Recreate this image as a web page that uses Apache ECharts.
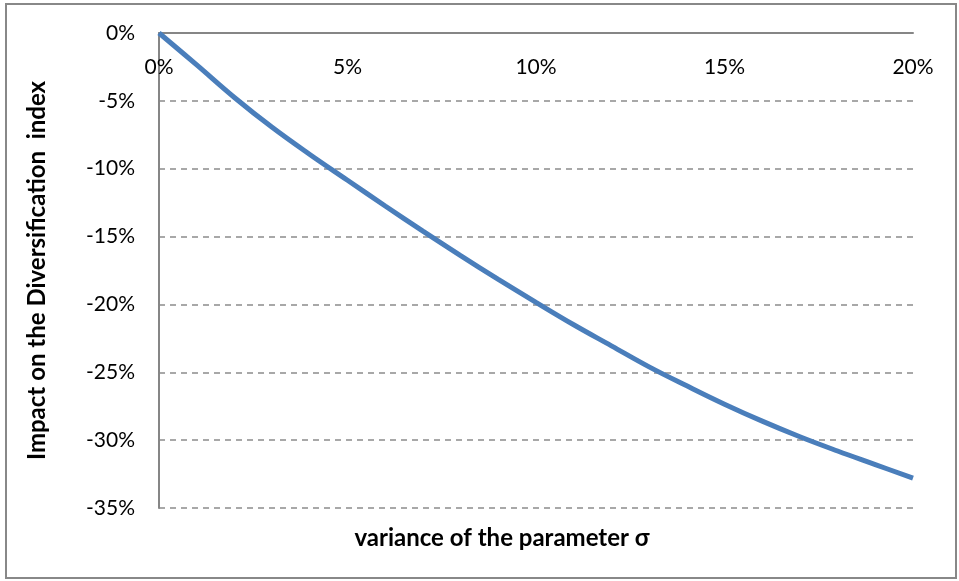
<!DOCTYPE html>
<html>
<head>
<meta charset="utf-8">
<script src="https://cdn.jsdelivr.net/npm/echarts@6/dist/echarts.min.js"></script>
<style>
html,body{margin:0;padding:0;background:#fff;}
#chart{width:959px;height:581px;}
</style>
</head>
<body>
<div id="chart"></div>
<script>
const sigmaValues = [0,1,2,3,4,5,6,7,8,9,10,11,12,13,14,15,16,17,18,19,20];
const impactValues = [0,-2.35,-4.75,-6.95,-8.95,-10.85,-12.75,-14.6,-16.4,-18.15,-19.85,-21.5,-23.05,-24.6,-26.0,-27.35,-28.6,-29.75,-30.8,-31.8,-32.8];
const xTitle = 'variance of the parameter σ';
const yTitle = 'Impact on the Diversification  index';

const FONT = 'Lato, "Open Sans", sans-serif';
const chart = echarts.init(document.getElementById('chart'));
chart.setOption({
  animation: false,
  backgroundColor: '#fff',
  grid: {left: 159, top: 33, width: 754, height: 475, containLabel: false},
  xAxis: {
    type: 'value', position: 'top', min: 0, max: 20, interval: 5,
    axisLine: {show: true, onZero: false, lineStyle: {color: '#868686', width: 2}},
    axisTick: {show: false},
    splitLine: {show: false},
    axisLabel: {inside: true, margin: 24, formatter: v => v + '%', color: '#000', fontSize: 21, fontFamily: FONT}
  },
  yAxis: {
    type: 'value', min: -35, max: 0, interval: 5,
    name: yTitle, nameLocation: 'middle', nameGap: 110, nameRotate: 90,
    nameTextStyle: {color: '#000', fontSize: 24, fontWeight: 'bold', fontFamily: FONT},
    axisLine: {show: true, lineStyle: {color: '#868686', width: 2}},
    axisTick: {show: false},
    splitLine: {show: true, lineStyle: {color: '#8c8c8c', width: 1.5, type: [6, 5]}},
    axisLabel: {margin: 24, formatter: v => v + '%', color: '#000', fontSize: 21, fontFamily: FONT}
  },
  series: [{
    type: 'line', showSymbol: false, smooth: 0.4,
    data: sigmaValues.map((s, i) => [s, impactValues[i]]),
    lineStyle: {color: '#4a7ebb', width: 5},
    z: 5
  }],
  graphic: [
    {type: 'rect', shape: {x: 6, y: 4, width: 950, height: 574}, style: {fill: 'none', stroke: '#888', lineWidth: 2}, silent: true},
    {type: 'text', x: 502, y: 538, style: {text: xTitle, fill: '#000', font: 'bold 24px ' + FONT, textAlign: 'center', textVerticalAlign: 'middle'}}
  ]
});
</script>
</body>
</html>
